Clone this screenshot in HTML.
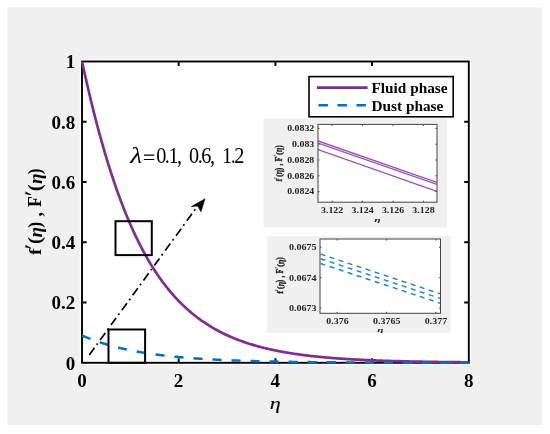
<!DOCTYPE html>
<html><head><meta charset="utf-8"><style>
html,body{margin:0;padding:0;background:#fff;width:550px;height:434px;overflow:hidden}
svg{display:block;will-change:transform;font-family:"Liberation Serif",serif}
</style></head><body>
<svg width="550" height="434" viewBox="0 0 550 434" font-family="Liberation Serif">
<rect x="0" y="0" width="550" height="434" fill="#ffffff"/>
<rect x="7.4" y="7.3" width="534.5" height="417.7" fill="#f0f0f0"/>
<rect x="79.8" y="59.3" width="391.2" height="305.7" fill="#ffffff"/>
<clipPath id="ca"><rect x="81" y="60.5" width="388.8" height="303.4"/></clipPath>
<rect x="82" y="61.5" width="386.8" height="301.3" fill="none" stroke="#000" stroke-width="1.9"/>
<path d="M178.70 362.80v-4.6M178.70 61.50v4.6M275.40 362.80v-4.6M275.40 61.50v4.6M372.10 362.80v-4.6M372.10 61.50v4.6M82 302.54h4.6M468.8 302.54h-4.6M82 242.28h4.6M468.8 242.28h-4.6M82 182.02h4.6M468.8 182.02h-4.6M82 121.76h4.6M468.8 121.76h-4.6" stroke="#000" stroke-width="1.9" fill="none"/>
<line x1="89.30" y1="354.90" x2="197.60" y2="206.00" stroke="#000" stroke-width="1.7" stroke-dasharray="8.7 3.7 1.8 4.23"/>
<path d="M205.0 198.8L191.4 206.6L197.6 206.0L201.0 211.8Z" fill="#000" stroke="#000" stroke-width="0.6" stroke-linejoin="round"/>
<g clip-path="url(#ca)">
<polyline points="82.00,61.50 82.77,65.05 83.55,68.57 84.32,72.05 85.09,75.51 85.87,78.92 86.64,82.31 87.42,85.66 88.19,88.98 88.96,92.27 89.74,95.52 90.51,98.74 91.28,101.93 92.06,105.09 92.83,108.21 93.60,111.30 94.38,114.36 95.15,117.39 95.92,120.38 96.70,123.35 97.47,126.28 98.25,129.18 99.02,132.04 99.79,134.88 100.57,137.69 101.34,140.46 102.11,143.21 102.89,145.92 103.66,148.61 104.43,151.26 105.21,153.89 105.98,156.48 106.76,159.05 107.53,161.58 108.30,164.09 109.08,166.57 109.85,169.02 110.62,171.44 111.40,173.83 112.17,176.20 112.94,178.54 113.72,180.85 114.49,183.13 115.26,185.39 116.04,187.62 116.81,189.83 117.59,192.01 118.36,194.16 119.13,196.29 119.91,198.39 120.68,200.46 121.45,202.51 122.23,204.54 123.00,206.54 123.77,208.52 124.55,210.48 125.32,212.41 126.10,214.31 126.87,216.20 127.64,218.06 128.42,219.90 129.19,221.71 129.96,223.51 130.74,225.28 131.51,227.03 132.28,228.76 133.06,230.46 133.83,232.15 134.60,233.81 135.38,235.46 136.15,237.08 136.93,238.69 137.70,240.27 138.47,241.84 139.25,243.38 140.02,244.91 140.79,246.41 141.57,247.90 142.34,249.37 143.11,250.82 143.89,252.25 144.66,253.67 145.44,255.06 146.21,256.44 146.98,257.80 147.76,259.15 148.53,260.47 149.30,261.79 150.08,263.08 150.85,264.36 151.62,265.62 152.40,266.86 153.17,268.09 153.94,269.31 154.72,270.51 155.49,271.69 156.27,272.86 157.04,274.01 157.81,275.15 158.59,276.28 159.36,277.39 160.13,278.48 160.91,279.57 161.68,280.63 162.45,281.69 163.23,282.73 164.00,283.76 164.78,284.77 165.55,285.78 166.32,286.76 167.10,287.74 167.87,288.70 168.64,289.66 169.42,290.60 170.19,291.52 170.96,292.44 171.74,293.34 172.51,294.23 173.28,295.12 174.06,295.99 174.83,296.84 175.61,297.69 176.38,298.53 177.15,299.35 177.93,300.17 178.70,300.97 179.47,301.77 180.25,302.55 181.02,303.32 181.79,304.09 182.57,304.84 183.34,305.59 184.12,306.32 184.89,307.05 185.66,307.76 186.44,308.47 187.21,309.17 187.98,309.86 188.76,310.54 189.53,311.21 190.30,311.87 191.08,312.53 191.85,313.17 192.62,313.81 193.40,314.44 194.17,315.06 194.95,315.67 195.72,316.28 196.49,316.87 197.27,317.46 198.04,318.05 198.81,318.62 199.59,319.19 200.36,319.75 201.13,320.30 201.91,320.85 202.68,321.38 203.46,321.92 204.23,322.44 205.00,322.96 205.78,323.47 206.55,323.97 207.32,324.47 208.10,324.96 208.87,325.45 209.64,325.93 210.42,326.40 211.19,326.87 211.96,327.33 212.74,327.79 213.51,328.23 214.29,328.68 215.06,329.12 215.83,329.55 216.61,329.97 217.38,330.39 218.15,330.81 218.93,331.22 219.70,331.63 220.47,332.02 221.25,332.42 222.02,332.81 222.80,333.19 223.57,333.57 224.34,333.95 225.12,334.32 225.89,334.68 226.66,335.04 227.44,335.40 228.21,335.75 228.98,336.10 229.76,336.44 230.53,336.78 231.30,337.11 232.08,337.44 232.85,337.76 233.63,338.08 234.40,338.40 235.17,338.71 235.95,339.02 236.72,339.33 237.49,339.63 238.27,339.92 239.04,340.22 239.81,340.50 240.59,340.79 241.36,341.07 242.14,341.35 242.91,341.62 243.68,341.90 244.46,342.16 245.23,342.43 246.00,342.69 246.78,342.94 247.55,343.20 248.32,343.45 249.10,343.70 249.87,343.94 250.64,344.18 251.42,344.42 252.19,344.66 252.97,344.89 253.74,345.12 254.51,345.34 255.29,345.57 256.06,345.79 256.83,346.00 257.61,346.22 258.38,346.43 259.15,346.64 259.93,346.85 260.70,347.05 261.48,347.25 262.25,347.45 263.02,347.65 263.80,347.84 264.57,348.03 265.34,348.22 266.12,348.41 266.89,348.59 267.66,348.77 268.44,348.95 269.21,349.13 269.98,349.30 270.76,349.48 271.53,349.65 272.31,349.81 273.08,349.98 273.85,350.14 274.63,350.30 275.40,350.46 276.17,350.62 276.95,350.78 277.72,350.93 278.49,351.08 279.27,351.23 280.04,351.38 280.82,351.53 281.59,351.67 282.36,351.81 283.14,351.95 283.91,352.09 284.68,352.23 285.46,352.36 286.23,352.50 287.00,352.63 287.78,352.76 288.55,352.88 289.32,353.01 290.10,353.14 290.87,353.26 291.65,353.38 292.42,353.50 293.19,353.62 293.97,353.74 294.74,353.85 295.51,353.97 296.29,354.08 297.06,354.19 297.83,354.30 298.61,354.41 299.38,354.52 300.16,354.62 300.93,354.73 301.70,354.83 302.48,354.93 303.25,355.03 304.02,355.13 304.80,355.23 305.57,355.32 306.34,355.42 307.12,355.51 307.89,355.61 308.66,355.70 309.44,355.79 310.21,355.88 310.99,355.97 311.76,356.05 312.53,356.14 313.31,356.22 314.08,356.31 314.85,356.39 315.63,356.47 316.40,356.55 317.17,356.63 317.95,356.71 318.72,356.79 319.50,356.87 320.27,356.94 321.04,357.02 321.82,357.09 322.59,357.16 323.36,357.23 324.14,357.31 324.91,357.38 325.68,357.44 326.46,357.51 327.23,357.58 328.00,357.65 328.78,357.71 329.55,357.78 330.33,357.84 331.10,357.90 331.87,357.97 332.65,358.03 333.42,358.09 334.19,358.15 334.97,358.21 335.74,358.27 336.51,358.32 337.29,358.38 338.06,358.44 338.84,358.49 339.61,358.55 340.38,358.60 341.16,358.66 341.93,358.71 342.70,358.76 343.48,358.81 344.25,358.86 345.02,358.91 345.80,358.96 346.57,359.01 347.34,359.06 348.12,359.11 348.89,359.15 349.67,359.20 350.44,359.25 351.21,359.29 351.99,359.34 352.76,359.38 353.53,359.42 354.31,359.47 355.08,359.51 355.85,359.55 356.63,359.59 357.40,359.63 358.18,359.67 358.95,359.71 359.72,359.75 360.50,359.79 361.27,359.83 362.04,359.87 362.82,359.91 363.59,359.94 364.36,359.98 365.14,360.01 365.91,360.05 366.68,360.09 367.46,360.12 368.23,360.15 369.01,360.19 369.78,360.22 370.55,360.25 371.33,360.29 372.10,360.32 372.87,360.35 373.65,360.38 374.42,360.41 375.19,360.44 375.97,360.47 376.74,360.50 377.52,360.53 378.29,360.56 379.06,360.59 379.84,360.62 380.61,360.64 381.38,360.67 382.16,360.70 382.93,360.73 383.70,360.75 384.48,360.78 385.25,360.80 386.02,360.83 386.80,360.85 387.57,360.88 388.35,360.90 389.12,360.93 389.89,360.95 390.67,360.98 391.44,361.00 392.21,361.02 392.99,361.04 393.76,361.07 394.53,361.09 395.31,361.11 396.08,361.13 396.86,361.15 397.63,361.17 398.40,361.19 399.18,361.21 399.95,361.24 400.72,361.25 401.50,361.27 402.27,361.29 403.04,361.31 403.82,361.33 404.59,361.35 405.36,361.37 406.14,361.39 406.91,361.41 407.69,361.42 408.46,361.44 409.23,361.46 410.01,361.48 410.78,361.49 411.55,361.51 412.33,361.52 413.10,361.54 413.87,361.56 414.65,361.57 415.42,361.59 416.20,361.60 416.97,361.62 417.74,361.63 418.52,361.65 419.29,361.66 420.06,361.68 420.84,361.69 421.61,361.71 422.38,361.72 423.16,361.73 423.93,361.75 424.70,361.76 425.48,361.77 426.25,361.79 427.03,361.80 427.80,361.81 428.57,361.83 429.35,361.84 430.12,361.85 430.89,361.86 431.67,361.87 432.44,361.89 433.21,361.90 433.99,361.91 434.76,361.92 435.54,361.93 436.31,361.94 437.08,361.95 437.86,361.96 438.63,361.98 439.40,361.99 440.18,362.00 440.95,362.01 441.72,362.02 442.50,362.03 443.27,362.04 444.04,362.05 444.82,362.06 445.59,362.06 446.37,362.07 447.14,362.08 447.91,362.09 448.69,362.10 449.46,362.11 450.23,362.12 451.01,362.13 451.78,362.14 452.55,362.14 453.33,362.15 454.10,362.16 454.88,362.17 455.65,362.18 456.42,362.19 457.20,362.19 457.97,362.20 458.74,362.21 459.52,362.22 460.29,362.22 461.06,362.23 461.84,362.24 462.61,362.25 463.38,362.25 464.16,362.26 464.93,362.27 465.71,362.27 466.48,362.28 467.25,362.29 468.03,362.29 468.80,362.30" fill="none" stroke="#7E2F8E" stroke-width="2.7" stroke-linejoin="round"/>
<polyline points="82.00,335.50 82.77,335.84 83.55,336.18 84.32,336.51 85.09,336.83 85.87,337.15 86.64,337.47 87.42,337.79 88.19,338.10 88.96,338.40 89.74,338.70 90.51,339.00 91.28,339.30 92.06,339.59 92.83,339.88 93.60,340.16 94.38,340.44 95.15,340.72 95.92,340.99 96.70,341.26 97.47,341.53 98.25,341.80 99.02,342.06 99.79,342.31 100.57,342.57 101.34,342.82 102.11,343.07 102.89,343.31 103.66,343.55 104.43,343.79 105.21,344.03 105.98,344.26 106.76,344.49 107.53,344.72 108.30,344.94 109.08,345.16 109.85,345.38 110.62,345.60 111.40,345.81 112.17,346.02 112.94,346.23 113.72,346.44 114.49,346.64 115.26,346.84 116.04,347.04 116.81,347.23 117.59,347.43 118.36,347.62 119.13,347.80 119.91,347.99 120.68,348.17 121.45,348.36 122.23,348.53 123.00,348.71 123.77,348.89 124.55,349.06 125.32,349.23 126.10,349.40 126.87,349.56 127.64,349.73 128.42,349.89 129.19,350.05 129.96,350.21 130.74,350.36 131.51,350.52 132.28,350.67 133.06,350.82 133.83,350.97 134.60,351.12 135.38,351.26 136.15,351.40 136.93,351.55 137.70,351.69 138.47,351.82 139.25,351.96 140.02,352.09 140.79,352.23 141.57,352.36 142.34,352.49 143.11,352.62 143.89,352.74 144.66,352.87 145.44,352.99 146.21,353.11 146.98,353.23 147.76,353.35 148.53,353.47 149.30,353.58 150.08,353.70 150.85,353.81 151.62,353.92 152.40,354.03 153.17,354.14 153.94,354.25 154.72,354.35 155.49,354.46 156.27,354.56 157.04,354.66 157.81,354.77 158.59,354.86 159.36,354.96 160.13,355.06 160.91,355.16 161.68,355.25 162.45,355.34 163.23,355.44 164.00,355.53 164.78,355.62 165.55,355.71 166.32,355.80 167.10,355.88 167.87,355.97 168.64,356.05 169.42,356.14 170.19,356.22 170.96,356.30 171.74,356.38 172.51,356.46 173.28,356.54 174.06,356.62 174.83,356.69 175.61,356.77 176.38,356.84 177.15,356.92 177.93,356.99 178.70,357.06 179.47,357.13 180.25,357.21 181.02,357.27 181.79,357.34 182.57,357.41 183.34,357.48 184.12,357.54 184.89,357.61 185.66,357.67 186.44,357.74 187.21,357.80 187.98,357.86 188.76,357.92 189.53,357.98 190.30,358.04 191.08,358.10 191.85,358.16 192.62,358.22 193.40,358.27 194.17,358.33 194.95,358.39 195.72,358.44 196.49,358.50 197.27,358.55 198.04,358.60 198.81,358.65 199.59,358.70 200.36,358.76 201.13,358.81 201.91,358.86 202.68,358.90 203.46,358.95 204.23,359.00 205.00,359.05 205.78,359.09 206.55,359.14 207.32,359.19 208.10,359.23 208.87,359.27 209.64,359.32 210.42,359.36 211.19,359.40 211.96,359.45 212.74,359.49 213.51,359.53 214.29,359.57 215.06,359.61 215.83,359.65 216.61,359.69 217.38,359.73 218.15,359.76 218.93,359.80 219.70,359.84 220.47,359.88 221.25,359.91 222.02,359.95 222.80,359.98 223.57,360.02 224.34,360.05 225.12,360.09 225.89,360.12 226.66,360.15 227.44,360.19 228.21,360.22 228.98,360.25 229.76,360.28 230.53,360.31 231.30,360.34 232.08,360.38 232.85,360.41 233.63,360.44 234.40,360.46 235.17,360.49 235.95,360.52 236.72,360.55 237.49,360.58 238.27,360.61 239.04,360.63 239.81,360.66 240.59,360.69 241.36,360.71 242.14,360.74 242.91,360.76 243.68,360.79 244.46,360.81 245.23,360.84 246.00,360.86 246.78,360.89 247.55,360.91 248.32,360.93 249.10,360.96 249.87,360.98 250.64,361.00 251.42,361.03 252.19,361.05 252.97,361.07 253.74,361.09 254.51,361.11 255.29,361.13 256.06,361.15 256.83,361.17 257.61,361.19 258.38,361.21 259.15,361.23 259.93,361.25 260.70,361.27 261.48,361.29 262.25,361.31 263.02,361.33 263.80,361.35 264.57,361.36 265.34,361.38 266.12,361.40 266.89,361.42 267.66,361.43 268.44,361.45 269.21,361.47 269.98,361.48 270.76,361.50 271.53,361.52 272.31,361.53 273.08,361.55 273.85,361.56 274.63,361.58 275.40,361.59 276.17,361.61 276.95,361.62 277.72,361.64 278.49,361.65 279.27,361.67 280.04,361.68 280.82,361.70 281.59,361.71 282.36,361.72 283.14,361.74 283.91,361.75 284.68,361.76 285.46,361.78 286.23,361.79 287.00,361.80 287.78,361.81 288.55,361.83 289.32,361.84 290.10,361.85 290.87,361.86 291.65,361.87 292.42,361.88 293.19,361.90 293.97,361.91 294.74,361.92 295.51,361.93 296.29,361.94 297.06,361.95 297.83,361.96 298.61,361.97 299.38,361.98 300.16,361.99 300.93,362.00 301.70,362.01 302.48,362.02 303.25,362.03 304.02,362.04 304.80,362.05 305.57,362.06 306.34,362.07 307.12,362.08 307.89,362.09 308.66,362.10 309.44,362.10 310.21,362.11 310.99,362.12 311.76,362.13 312.53,362.14 313.31,362.15 314.08,362.15 314.85,362.16 315.63,362.17 316.40,362.18 317.17,362.19 317.95,362.19 318.72,362.20 319.50,362.21 320.27,362.22 321.04,362.22 321.82,362.23 322.59,362.24 323.36,362.24 324.14,362.25 324.91,362.26 325.68,362.26 326.46,362.27 327.23,362.28 328.00,362.28 328.78,362.29 329.55,362.30 330.33,362.30 331.10,362.31 331.87,362.32 332.65,362.32 333.42,362.33 334.19,362.33 334.97,362.34 335.74,362.34 336.51,362.35 337.29,362.36 338.06,362.36 338.84,362.37 339.61,362.37 340.38,362.38 341.16,362.38 341.93,362.39 342.70,362.39 343.48,362.40 344.25,362.40 345.02,362.41 345.80,362.41 346.57,362.42 347.34,362.42 348.12,362.43 348.89,362.43 349.67,362.44 350.44,362.44 351.21,362.45 351.99,362.45 352.76,362.45 353.53,362.46 354.31,362.46 355.08,362.47 355.85,362.47 356.63,362.47 357.40,362.48 358.18,362.48 358.95,362.49 359.72,362.49 360.50,362.49 361.27,362.50 362.04,362.50 362.82,362.51 363.59,362.51 364.36,362.51 365.14,362.52 365.91,362.52 366.68,362.52 367.46,362.53 368.23,362.53 369.01,362.53 369.78,362.54 370.55,362.54 371.33,362.54 372.10,362.55 372.87,362.55 373.65,362.55 374.42,362.56 375.19,362.56 375.97,362.56 376.74,362.56 377.52,362.57 378.29,362.57 379.06,362.57 379.84,362.58 380.61,362.58 381.38,362.58 382.16,362.58 382.93,362.59 383.70,362.59 384.48,362.59 385.25,362.60 386.02,362.60 386.80,362.60 387.57,362.60 388.35,362.61 389.12,362.61 389.89,362.61 390.67,362.61 391.44,362.61 392.21,362.62 392.99,362.62 393.76,362.62 394.53,362.62 395.31,362.63 396.08,362.63 396.86,362.63 397.63,362.63 398.40,362.63 399.18,362.64 399.95,362.64 400.72,362.64 401.50,362.64 402.27,362.64 403.04,362.65 403.82,362.65 404.59,362.65 405.36,362.65 406.14,362.65 406.91,362.66 407.69,362.66 408.46,362.66 409.23,362.66 410.01,362.66 410.78,362.66 411.55,362.67 412.33,362.67 413.10,362.67 413.87,362.67 414.65,362.67 415.42,362.67 416.20,362.68 416.97,362.68 417.74,362.68 418.52,362.68 419.29,362.68 420.06,362.68 420.84,362.68 421.61,362.69 422.38,362.69 423.16,362.69 423.93,362.69 424.70,362.69 425.48,362.69 426.25,362.69 427.03,362.70 427.80,362.70 428.57,362.70 429.35,362.70 430.12,362.70 430.89,362.70 431.67,362.70 432.44,362.70 433.21,362.71 433.99,362.71 434.76,362.71 435.54,362.71 436.31,362.71 437.08,362.71 437.86,362.71 438.63,362.71 439.40,362.71 440.18,362.72 440.95,362.72 441.72,362.72 442.50,362.72 443.27,362.72 444.04,362.72 444.82,362.72 445.59,362.72 446.37,362.72 447.14,362.72 447.91,362.73 448.69,362.73 449.46,362.73 450.23,362.73 451.01,362.73 451.78,362.73 452.55,362.73 453.33,362.73 454.10,362.73 454.88,362.73 455.65,362.73 456.42,362.74 457.20,362.74 457.97,362.74 458.74,362.74 459.52,362.74 460.29,362.74 461.06,362.74 461.84,362.74 462.61,362.74 463.38,362.74 464.16,362.74 464.93,362.74 465.71,362.74 466.48,362.74 467.25,362.75 468.03,362.75 468.80,362.75" fill="none" stroke="#0072BD" stroke-width="2.5" stroke-dasharray="9.1 9.95"/>
</g>
<text transform="translate(75.30,369.70) scale(1.000,1.000)" font-size="19.00" font-weight="bold" font-style="normal" text-anchor="end" fill="#000" >0</text>
<text transform="translate(75.30,309.44) scale(1.000,1.000)" font-size="19.00" font-weight="bold" font-style="normal" text-anchor="end" fill="#000" >0.2</text>
<text transform="translate(75.30,249.18) scale(1.000,1.000)" font-size="19.00" font-weight="bold" font-style="normal" text-anchor="end" fill="#000" >0.4</text>
<text transform="translate(75.30,188.92) scale(1.000,1.000)" font-size="19.00" font-weight="bold" font-style="normal" text-anchor="end" fill="#000" >0.6</text>
<text transform="translate(75.30,128.66) scale(1.000,1.000)" font-size="19.00" font-weight="bold" font-style="normal" text-anchor="end" fill="#000" >0.8</text>
<text transform="translate(75.30,68.40) scale(1.000,1.000)" font-size="19.00" font-weight="bold" font-style="normal" text-anchor="end" fill="#000" >1</text>
<text transform="translate(81.90,386.90) scale(1.000,1.000)" font-size="19.00" font-weight="bold" font-style="normal" text-anchor="middle" fill="#000" >0</text>
<text transform="translate(178.60,386.90) scale(1.000,1.000)" font-size="19.00" font-weight="bold" font-style="normal" text-anchor="middle" fill="#000" >2</text>
<text transform="translate(275.30,386.90) scale(1.000,1.000)" font-size="19.00" font-weight="bold" font-style="normal" text-anchor="middle" fill="#000" >4</text>
<text transform="translate(372.00,386.90) scale(1.000,1.000)" font-size="19.00" font-weight="bold" font-style="normal" text-anchor="middle" fill="#000" >6</text>
<text transform="translate(468.70,386.90) scale(1.000,1.000)" font-size="19.00" font-weight="bold" font-style="normal" text-anchor="middle" fill="#000" >8</text>
<text transform="translate(269.825,408.822) scale(0.22143,0.16642)" font-size="100" font-weight="normal" font-style="italic" fill="#000" stroke="#000" stroke-width="0.8">η</text>
<g transform="translate(41.300,255.000) rotate(-90) scale(1.0000,1.0000)" fill="#000"><text transform="translate(0.100,0.000) scale(0.20000,0.17589)" font-size="100" font-weight="bold" font-style="normal" fill="#000" >f</text><text transform="translate(10.882,-0.075) scale(0.20392,0.18022)" font-size="100" font-weight="bold" font-style="normal" fill="#000" >(</text><text transform="translate(17.616,0.482) scale(0.19175,0.18686)" font-size="100" font-weight="bold" font-style="italic" fill="#000" >η</text><text transform="translate(27.369,-0.027) scale(0.17692,0.18222)" font-size="100" font-weight="bold" font-style="normal" fill="#000" >)</text><text transform="translate(38.438,0.452) scale(0.17436,0.19667)" font-size="100" font-weight="bold" font-style="normal" fill="#000" >,</text><text transform="translate(48.035,0.000) scale(0.17636,0.18626)" font-size="100" font-weight="bold" font-style="normal" fill="#000" >F</text><text transform="translate(63.765,-0.075) scale(0.20784,0.18022)" font-size="100" font-weight="bold" font-style="normal" fill="#000" >(</text><text transform="translate(70.916,0.482) scale(0.19175,0.18686)" font-size="100" font-weight="bold" font-style="italic" fill="#000" >η</text><text transform="translate(80.781,-0.027) scale(0.17308,0.18222)" font-size="100" font-weight="bold" font-style="normal" fill="#000" >)</text><path stroke="none" d="M7.33 -10.48L10.52 -16.45A1.30 1.30 0 0 1 8.08 -17.35L6.67 -10.72Z" /><path stroke="none" d="M60.43 -10.18L63.72 -16.46A1.30 1.30 0 0 1 61.28 -17.34L59.77 -10.42Z" /></g>
<rect x="115.5" y="221.2" width="36.3" height="33.9" fill="none" stroke="#000" stroke-width="2"/>
<rect x="108.5" y="329.5" width="36.6" height="33.3" fill="none" stroke="#000" stroke-width="2"/>
<text transform="translate(130.192,163.400) scale(0.27674,0.22411)" font-size="100" font-weight="normal" font-style="italic" fill="#000" >λ</text>
<path d="M143.9 155.1h10.4M143.9 159.5h10.4" stroke="#000" stroke-width="1.15"/>
<text transform="translate(156.20,163.30) scale(0.870,1.000)" font-size="23.30" font-weight="normal" font-style="normal" text-anchor="start" fill="#000" letter-spacing="-1.7">0.1,</text>
<text transform="translate(189.10,163.30) scale(0.870,1.000)" font-size="23.30" font-weight="normal" font-style="normal" text-anchor="start" fill="#000" letter-spacing="-1.7">0.6,</text>
<text transform="translate(222.00,163.30) scale(0.870,1.000)" font-size="23.30" font-weight="normal" font-style="normal" text-anchor="start" fill="#000" letter-spacing="-1.7">1.2</text>
<rect x="309" y="76.6" width="144.2" height="40.2" fill="#fff" stroke="#000" stroke-width="1.6"/>
<line x1="316.9" y1="87.6" x2="367.6" y2="87.6" stroke="#7E2F8E" stroke-width="2.6"/>
<line x1="318.5" y1="105.2" x2="367.6" y2="105.2" stroke="#0072BD" stroke-width="2.6" stroke-dasharray="9.4 9.6"/>
<text transform="translate(371.50,93.40) scale(1.000,1.000)" font-size="15.30" font-weight="bold" font-style="normal" text-anchor="start" fill="#000" >Fluid phase</text>
<text transform="translate(371.50,111.00) scale(1.000,1.000)" font-size="15.30" font-weight="bold" font-style="normal" text-anchor="start" fill="#000" >Dust phase</text>
<rect x="263.6" y="118.5" width="183.4" height="109.1" fill="#f0f0f0"/>
<rect x="318" y="124.4" width="119" height="77.8" fill="#fff"/>
<clipPath id="c1"><rect x="318" y="124.4" width="119" height="77.8"/></clipPath>
<g clip-path="url(#c1)" stroke="#9450b2" stroke-width="1.45" fill="none">
<line x1="318" y1="140.9" x2="437" y2="182.4"/>
<line x1="318" y1="143.1" x2="437" y2="184.4"/>
<line x1="318" y1="149.6" x2="437" y2="191.4"/>
</g>
<rect x="318" y="124.4" width="119" height="77.8" fill="none" stroke="#444" stroke-width="1"/>
<path d="M332.10 202.2v-1.5M332.10 124.4v1.5M362.55 202.2v-1.5M362.55 124.4v1.5M393.00 202.2v-1.5M393.00 124.4v1.5M423.45 202.2v-1.5M423.45 124.4v1.5M318 128.40h1.5M437 128.40h-1.5M318 144.20h1.5M437 144.20h-1.5M318 160.00h1.5M437 160.00h-1.5M318 175.80h1.5M437 175.80h-1.5M318 191.60h1.5M437 191.60h-1.5" stroke="#444" stroke-width="1"/>
<text transform="translate(314.30,131.20) scale(1.000,0.830)" font-size="9.90" font-weight="bold" font-style="normal" text-anchor="end" fill="#222" >0.0832</text>
<text transform="translate(314.30,147.00) scale(1.000,0.830)" font-size="9.90" font-weight="bold" font-style="normal" text-anchor="end" fill="#222" >0.083</text>
<text transform="translate(314.30,162.80) scale(1.000,0.830)" font-size="9.90" font-weight="bold" font-style="normal" text-anchor="end" fill="#222" >0.0828</text>
<text transform="translate(314.30,178.60) scale(1.000,0.830)" font-size="9.90" font-weight="bold" font-style="normal" text-anchor="end" fill="#222" >0.0826</text>
<text transform="translate(314.30,194.40) scale(1.000,0.830)" font-size="9.90" font-weight="bold" font-style="normal" text-anchor="end" fill="#222" >0.0824</text>
<text transform="translate(332.10,212.90) scale(1.000,0.850)" font-size="9.90" font-weight="bold" font-style="normal" text-anchor="middle" fill="#222" >3.122</text>
<text transform="translate(362.55,212.90) scale(1.000,0.850)" font-size="9.90" font-weight="bold" font-style="normal" text-anchor="middle" fill="#222" >3.124</text>
<text transform="translate(393.00,212.90) scale(1.000,0.850)" font-size="9.90" font-weight="bold" font-style="normal" text-anchor="middle" fill="#222" >3.126</text>
<text transform="translate(423.45,212.90) scale(1.000,0.850)" font-size="9.90" font-weight="bold" font-style="normal" text-anchor="middle" fill="#222" >3.128</text>
<text transform="translate(374.365,222.056) scale(0.11753,0.06715)" font-size="100" font-weight="bold" font-style="italic" fill="#222" >η</text>
<g transform="translate(282.200,181.600) rotate(-90) scale(0.4180,0.5100)" fill="#222" stroke="#222" stroke-width="3.50"><text transform="translate(0.100,0.000) scale(0.20000,0.17589)" font-size="100" font-weight="bold" font-style="normal" fill="#222" >f</text><text transform="translate(10.882,-0.075) scale(0.20392,0.18022)" font-size="100" font-weight="bold" font-style="normal" fill="#222" >(</text><text transform="translate(17.616,0.482) scale(0.19175,0.18686)" font-size="100" font-weight="bold" font-style="italic" fill="#222" >η</text><text transform="translate(27.369,-0.027) scale(0.17692,0.18222)" font-size="100" font-weight="bold" font-style="normal" fill="#222" >)</text><text transform="translate(38.438,0.452) scale(0.17436,0.19667)" font-size="100" font-weight="bold" font-style="normal" fill="#222" >,</text><text transform="translate(48.035,0.000) scale(0.17636,0.18626)" font-size="100" font-weight="bold" font-style="normal" fill="#222" >F</text><text transform="translate(63.765,-0.075) scale(0.20784,0.18022)" font-size="100" font-weight="bold" font-style="normal" fill="#222" >(</text><text transform="translate(70.916,0.482) scale(0.19175,0.18686)" font-size="100" font-weight="bold" font-style="italic" fill="#222" >η</text><text transform="translate(80.781,-0.027) scale(0.17308,0.18222)" font-size="100" font-weight="bold" font-style="normal" fill="#222" >)</text><path stroke="none" d="M7.33 -10.48L10.52 -16.45A1.30 1.30 0 0 1 8.08 -17.35L6.67 -10.72Z" /><path stroke="none" d="M60.43 -10.18L63.72 -16.46A1.30 1.30 0 0 1 61.28 -17.34L59.77 -10.42Z" /></g>
<rect x="267.2" y="236.3" width="183.1" height="96.4" fill="#f0f0f0"/>
<rect x="320" y="239" width="120.5" height="74.3" fill="#fff"/>
<clipPath id="c2"><rect x="320" y="239" width="120.5" height="74.3"/></clipPath>
<g clip-path="url(#c2)" stroke="#2680c6" stroke-width="1.45" fill="none" stroke-dasharray="5 4.5" stroke-dashoffset="-0.6">
<line x1="320" y1="253.90" x2="441" y2="294.07"/>
<line x1="320" y1="258.50" x2="441" y2="298.67"/>
<line x1="320" y1="263.30" x2="441" y2="303.47"/>
</g>
<rect x="320" y="239" width="120.5" height="74.3" fill="none" stroke="#444" stroke-width="1"/>
<path d="M337.20 313.3v-1.5M337.20 239v1.5M386.60 313.3v-1.5M386.60 239v1.5M436.00 313.3v-1.5M436.00 239v1.5M320 247.30h1.5M440.5 247.30h-1.5M320 277.70h1.5M440.5 277.70h-1.5M320 308.10h1.5M440.5 308.10h-1.5" stroke="#444" stroke-width="1"/>
<text transform="translate(316.60,250.10) scale(1.000,0.800)" font-size="10.10" font-weight="bold" font-style="normal" text-anchor="end" fill="#222" >0.0675</text>
<text transform="translate(316.60,280.50) scale(1.000,0.800)" font-size="10.10" font-weight="bold" font-style="normal" text-anchor="end" fill="#222" >0.0674</text>
<text transform="translate(316.60,310.90) scale(1.000,0.800)" font-size="10.10" font-weight="bold" font-style="normal" text-anchor="end" fill="#222" >0.0673</text>
<text transform="translate(337.50,323.60) scale(1.000,0.850)" font-size="10.00" font-weight="bold" font-style="normal" text-anchor="middle" fill="#222" >0.376</text>
<text transform="translate(386.80,323.60) scale(1.000,0.850)" font-size="10.00" font-weight="bold" font-style="normal" text-anchor="middle" fill="#222" >0.3765</text>
<text transform="translate(436.10,323.60) scale(1.000,0.850)" font-size="10.00" font-weight="bold" font-style="normal" text-anchor="middle" fill="#222" >0.377</text>
<text transform="translate(377.269,331.645) scale(0.11546,0.05839)" font-size="100" font-weight="bold" font-style="italic" fill="#222" >η</text>
<g transform="translate(283.300,293.700) rotate(-90) scale(0.4200,0.5100)" fill="#222" stroke="#222" stroke-width="3.50"><text transform="translate(0.100,0.000) scale(0.20000,0.17589)" font-size="100" font-weight="bold" font-style="normal" fill="#222" >f</text><text transform="translate(10.882,-0.075) scale(0.20392,0.18022)" font-size="100" font-weight="bold" font-style="normal" fill="#222" >(</text><text transform="translate(17.616,0.482) scale(0.19175,0.18686)" font-size="100" font-weight="bold" font-style="italic" fill="#222" >η</text><text transform="translate(27.369,-0.027) scale(0.17692,0.18222)" font-size="100" font-weight="bold" font-style="normal" fill="#222" >)</text><text transform="translate(38.438,0.452) scale(0.17436,0.19667)" font-size="100" font-weight="bold" font-style="normal" fill="#222" >,</text><text transform="translate(48.035,0.000) scale(0.17636,0.18626)" font-size="100" font-weight="bold" font-style="normal" fill="#222" >F</text><text transform="translate(63.765,-0.075) scale(0.20784,0.18022)" font-size="100" font-weight="bold" font-style="normal" fill="#222" >(</text><text transform="translate(70.916,0.482) scale(0.19175,0.18686)" font-size="100" font-weight="bold" font-style="italic" fill="#222" >η</text><text transform="translate(80.781,-0.027) scale(0.17308,0.18222)" font-size="100" font-weight="bold" font-style="normal" fill="#222" >)</text><path stroke="none" d="M7.33 -10.48L10.52 -16.45A1.30 1.30 0 0 1 8.08 -17.35L6.67 -10.72Z" /><path stroke="none" d="M60.43 -10.18L63.72 -16.46A1.30 1.30 0 0 1 61.28 -17.34L59.77 -10.42Z" /></g>
</svg>
</body></html>
